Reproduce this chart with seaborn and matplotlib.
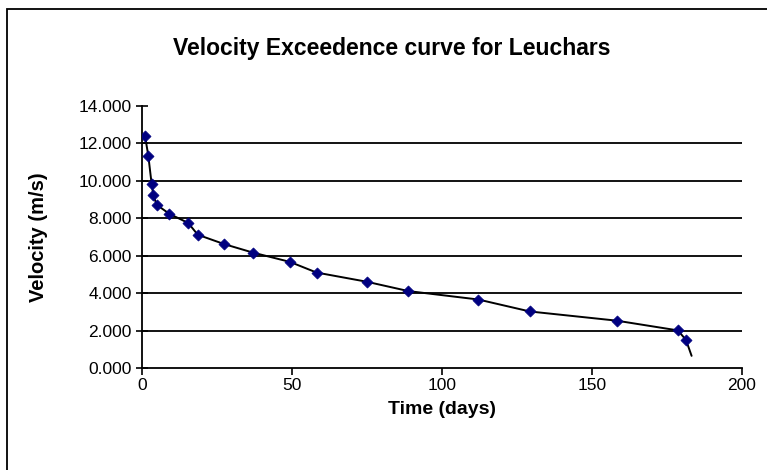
import matplotlib
matplotlib.use("Agg")
import matplotlib.pyplot as plt
import seaborn as sns
import pandas as pd
from matplotlib.patches import Rectangle

# Data
days = [1.0, 2.1, 3.2, 3.8, 4.9, 9.1, 15.4, 18.6, 27.4, 36.9, 49.3, 58.2,
        74.9, 88.8, 112.1, 129.3, 158.2, 178.6, 181.3]
velocity = [12.40, 11.35, 9.85, 9.22, 8.72, 8.24, 7.75, 7.12, 6.62, 6.17,
            5.67, 5.10, 4.61, 4.11, 3.66, 3.02, 2.53, 2.01, 1.51]
# curve continues slightly beyond the last marker
curve_end_day = 183.2
curve_end_vel = 0.65

x_ticks = [0, 50, 100, 150, 200]
y_ticks = [0, 2, 4, 6, 8, 10, 12, 14]
grid_levels = [2, 4, 6, 8, 10, 12]

title = "Velocity Exceedence curve for Leuchars"
xlabel = "Time (days)"
ylabel = "Velocity (m/s)"

sns.set_theme(style="white")
plt.rcParams['font.family'] = ['Liberation Sans', 'DejaVu Sans']
plt.rcParams.update({"text.color": "black", "axes.labelcolor": "black",
                     "xtick.color": "black", "ytick.color": "black"})

W, H = 767, 470
fig = plt.figure(figsize=(W / 100, H / 100), dpi=100)
fig.patch.set_facecolor("white")

ax = fig.add_axes([142 / W, 1 - 368 / H, 600 / W, (368 - 106) / H])
ax.set_facecolor("white")

points = pd.DataFrame({"day": days, "vel": velocity})
curve = pd.DataFrame({"day": days + [curve_end_day],
                      "vel": velocity + [curve_end_vel]})

for g in grid_levels:
    ax.axhline(g, color="black", lw=1.3, zorder=1)

sns.lineplot(data=curve, x="day", y="vel", ax=ax, color="black", lw=1.4,
             sort=False, zorder=3, estimator=None)
sns.scatterplot(data=points, x="day", y="vel", ax=ax, marker="D", s=32,
                color="#000080", edgecolor="#000080", linewidth=0.5, zorder=4)

ax.set_xlim(0, 200)
ax.set_ylim(0, 14)
ax.set_xticks(x_ticks)
ax.set_xticklabels([str(t) for t in x_ticks])
ax.set_yticks(y_ticks)
ax.set_yticklabels([f"{t:.3f}" for t in y_ticks])

for s in ["top", "right"]:
    ax.spines[s].set_visible(False)
for s in ["left", "bottom"]:
    ax.spines[s].set_color("black")
    ax.spines[s].set_linewidth(1.3)

ax.tick_params(axis="y", direction="inout", length=9, width=1.2, color="black",
               labelcolor="black", labelsize=12.5, pad=3, left=True)
ax.tick_params(axis="x", direction="out", length=5, width=1.2, color="black",
               labelcolor="black", labelsize=12.5, pad=2, bottom=True)

ax.set_xlabel(xlabel, fontsize=14, fontweight="bold", color="black")
ax.set_ylabel(ylabel, fontsize=14.5, fontweight="bold", color="black")
ax.xaxis.set_label_coords(0.5, (368 - 410) / 262)
ax.yaxis.set_label_coords((38 - 142) / 600, 0.5)
ax.xaxis.label.set_va("center")
ax.yaxis.label.set_va("center")

fig.text(392 / W, 1 - 48 / H, title, ha="center", va="center",
         fontsize=16.5, fontweight="bold", color="black")

# chart-area border (left/top visible; right/bottom run off the image)
fig.patches.append(Rectangle((6.5 / W, -0.1), 1.2, 1 - 9 / H + 0.1,
                             transform=fig.transFigure, fill=False,
                             edgecolor="black", lw=1.3))

fig.savefig("out.png", dpi=100, facecolor="white")
